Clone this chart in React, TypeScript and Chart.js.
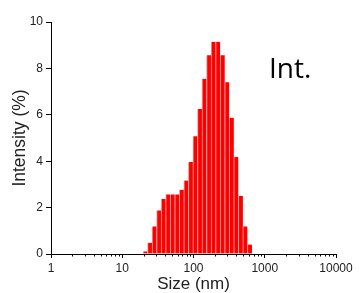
import React, { useEffect, useRef } from "react";
import { Chart, registerables } from "chart.js";

Chart.register(...registerables);

// Size bins (nm, bin centres) and intensity (%)
const sizes = [21.04, 24.36, 28.21, 32.67, 37.84, 43.82, 50.75, 58.77, 68.06, 78.82, 91.28, 105.7, 122.4, 141.8, 164.2, 190.1, 220.2, 255.0, 295.3, 342.0, 396.1, 458.7, 531.2, 615.1];
const intensity = [0.11, 0.48, 1.19, 1.88, 2.37, 2.57, 2.57, 2.57, 2.77, 3.17, 3.97, 5.08, 6.25, 7.55, 8.57, 9.15, 9.15, 8.57, 7.40, 5.87, 4.18, 2.50, 1.19, 0.41];
const xMajorTicks = [1, 10, 100, 1000, 10000];
const xMinorMultipliers = [2, 3, 4, 5, 6, 7, 8, 9];
const yTicks = [0, 2, 4, 6, 8, 10];
const xTitle = "Size (nm)";
const yTitle = "Intensity (%)";
const annotation = "Int.";

const FONT = "'Liberation Sans', Arial, sans-serif";

const extrasPlugin = {
  id: "extras",
  afterDraw(chart: any) {
    const ctx = chart.ctx;
    const xs = chart.scales.x;
    const bottom = chart.chartArea.bottom;
    ctx.save();
    ctx.strokeStyle = "#000";
    ctx.lineWidth = 1;
    ctx.beginPath();
    for (let d = 0; d < xMajorTicks.length - 1; d++) {
      for (const m of xMinorMultipliers) {
        const px = Math.round(xs.getPixelForValue(m * xMajorTicks[d])) + 0.5;
        ctx.moveTo(px, bottom);
        ctx.lineTo(px, bottom + 2.5);
      }
    }
    ctx.stroke();
    ctx.fillStyle = "#000";
    ctx.font = "28px 'Open Sans', sans-serif";
    ctx.textBaseline = "alphabetic";
    ctx.textAlign = "left";
    ctx.fillText(annotation, 269, 78);
    ctx.restore();
  },
};

export default function App() {
  const ref = useRef<HTMLCanvasElement | null>(null);
  useEffect(() => {
    if (!ref.current) return;
    const chart = new Chart(ref.current, {
      type: "bar",
      data: {
        datasets: [
          {
            data: sizes.map((s, i) => ({ x: s, y: intensity[i] })),
            backgroundColor: "#ff0000",
            borderColor: "#ff9a9a",
            borderWidth: { left: 1, right: 0, top: 0, bottom: 0 },
            borderSkipped: false,
            barPercentage: 1,
            categoryPercentage: 1,
          },
        ],
      },
      options: {
        responsive: false,
        animation: false,
        devicePixelRatio: 1,
        layout: { padding: { left: 0, top: 22, right: 24, bottom: 0 } },
        plugins: { legend: { display: false }, tooltip: { enabled: false } },
        scales: {
          x: {
            type: "logarithmic",
            min: 1,
            max: 10000,
            offset: false,
            grid: { offset: false, drawOnChartArea: false, drawTicks: true, tickLength: 4, tickColor: "#000", tickWidth: 1 },
            border: { display: true, color: "#000", width: 1 },
            afterBuildTicks: (scale: any) => {
              scale.ticks = xMajorTicks.map((v) => ({ value: v, major: true }));
            },
            afterFit: (scale: any) => {
              scale.height = 39;
            },
            ticks: {
              autoSkip: false,
              maxRotation: 0,
              padding: 3,
              color: "#222",
              font: { family: FONT, size: 12 },
              callback: (v: any) => String(v),
            },
            title: {
              display: true,
              text: xTitle,
              color: "#222",
              font: { family: FONT, size: 17, lineHeight: 1 },
              padding: { top: 0, bottom: 0.5 },
            },
          },
          y: {
            type: "linear",
            min: 0,
            max: 10,
            afterBuildTicks: (scale: any) => {
              scale.ticks = yTicks.map((v) => ({ value: v }));
            },
            afterFit: (scale: any) => {
              scale.width = 51;
            },
            grid: { drawOnChartArea: false, drawTicks: true, tickLength: 5, tickColor: "#000", tickWidth: 1 },
            border: { display: true, color: "#000", width: 1 },
            ticks: {
              padding: 3,
              color: "#222",
              font: { family: FONT, size: 12 },
              callback: (v: any) => String(v),
            },
            title: {
              display: true,
              text: yTitle,
              color: "#222",
              font: { family: FONT, size: 17.5, lineHeight: 1.2 },
              padding: { top: 9.5, bottom: 0 },
            },
          },
        },
      },
      plugins: [extrasPlugin],
    } as any);
    return () => chart.destroy();
  }, []);
  return (
    <div style={{ position: "absolute", left: 0, top: 0, width: 360, height: 293, background: "#fff" }}>
      <canvas ref={ref} width={360} height={293} style={{ display: "block", width: 360, height: 293 }} />
    </div>
  );
}
